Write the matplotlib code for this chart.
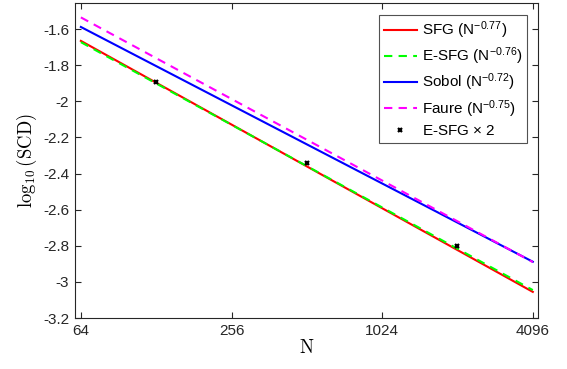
import matplotlib
matplotlib.use("Agg")
import matplotlib.pyplot as plt
import matplotlib.ticker as mticker

# ── Data ─────────────────────────────────────────────────────────────
n_ends = [64, 4096]
sfg = [-1.665, -3.055]
esfg = [-1.672, -3.045]
sobol = [-1.588, -2.888]
faure = [-1.535, -2.890]

n_pts = [128, 512, 2048]
esfg_x2 = [-1.89, -2.34, -2.80]

x_ticks = [64, 256, 1024, 4096]
y_ticks = [-3.2, -3.0, -2.8, -2.6, -2.4, -2.2, -2.0, -1.8, -1.6]

# ── Style ────────────────────────────────────────────────────────────
plt.rcParams.update({
    "font.family": ["Liberation Sans", "DejaVu Sans"],
    "mathtext.fontset": "custom",
    "mathtext.rm": "Liberation Sans",
    "mathtext.it": "Liberation Sans:italic",
    "mathtext.sf": "Liberation Sans",
    "axes.unicode_minus": False,
    "axes.linewidth": 0.8,
    "axes.edgecolor": "#262626",
    "xtick.color": "#262626",
    "ytick.color": "#262626",
    "xtick.direction": "in",
    "ytick.direction": "in",
    "xtick.top": True,
    "ytick.right": True,
    "xtick.major.size": 4,
    "ytick.major.size": 4,
})

fig = plt.figure(figsize=(5.67, 3.69), dpi=100)
ax = fig.add_axes([0.132, 0.138, 0.817, 0.854])

ax.plot(n_ends, sfg, color="#ff0000", lw=1.5, label="SFG (N$^{-0.77}$)")
ax.plot(n_ends, esfg, color="#00ff00", lw=1.5, ls=(0, (4, 3)),
        label="E-SFG (N$^{-0.76}$)")
ax.plot(n_ends, sobol, color="#0000ff", lw=1.5, label="Sobol (N$^{-0.72}$)")
ax.plot(n_ends, faure, color="#ff00ff", lw=1.5, ls=(0, (4, 3)),
        label="Faure (N$^{-0.75}$)")
ax.plot(n_pts, esfg_x2, ls="none", marker="x", color="black", ms=3.5,
        mew=1.6, label=r"E-SFG $\times$ 2")

ax.set_xscale("log", base=2)
ax.set_xlim(2 ** 5.92, 2 ** 12.07)
ax.set_ylim(-3.2, -1.455)
ax.xaxis.set_major_locator(mticker.FixedLocator(x_ticks))
ax.xaxis.set_minor_locator(mticker.NullLocator())
ax.xaxis.set_major_formatter(mticker.FuncFormatter(lambda x, _: f"{int(x)}"))
ax.yaxis.set_major_locator(mticker.FixedLocator(y_ticks))
ax.yaxis.set_major_formatter(mticker.FuncFormatter(lambda y, _: f"{y:g}"))
ax.tick_params(labelsize=11, pad=4)

ax.set_xlabel(r"$\mathrm{N}$", fontsize=13.5, math_fontfamily="cm",
              labelpad=1)
ax.set_ylabel(r"$\log_{10}(\mathrm{SCD})$", fontsize=13.5,
              math_fontfamily="cm", labelpad=3)

leg = ax.legend(loc="upper right", bbox_to_anchor=(0.976, 0.962),
                borderaxespad=0, fontsize=11, fancybox=False,
                edgecolor="#262626", handlelength=2.2, handletextpad=0.3,
                labelspacing=0.3, borderpad=0.3)
leg.get_frame().set_linewidth(0.8)

fig.savefig("out.png")
